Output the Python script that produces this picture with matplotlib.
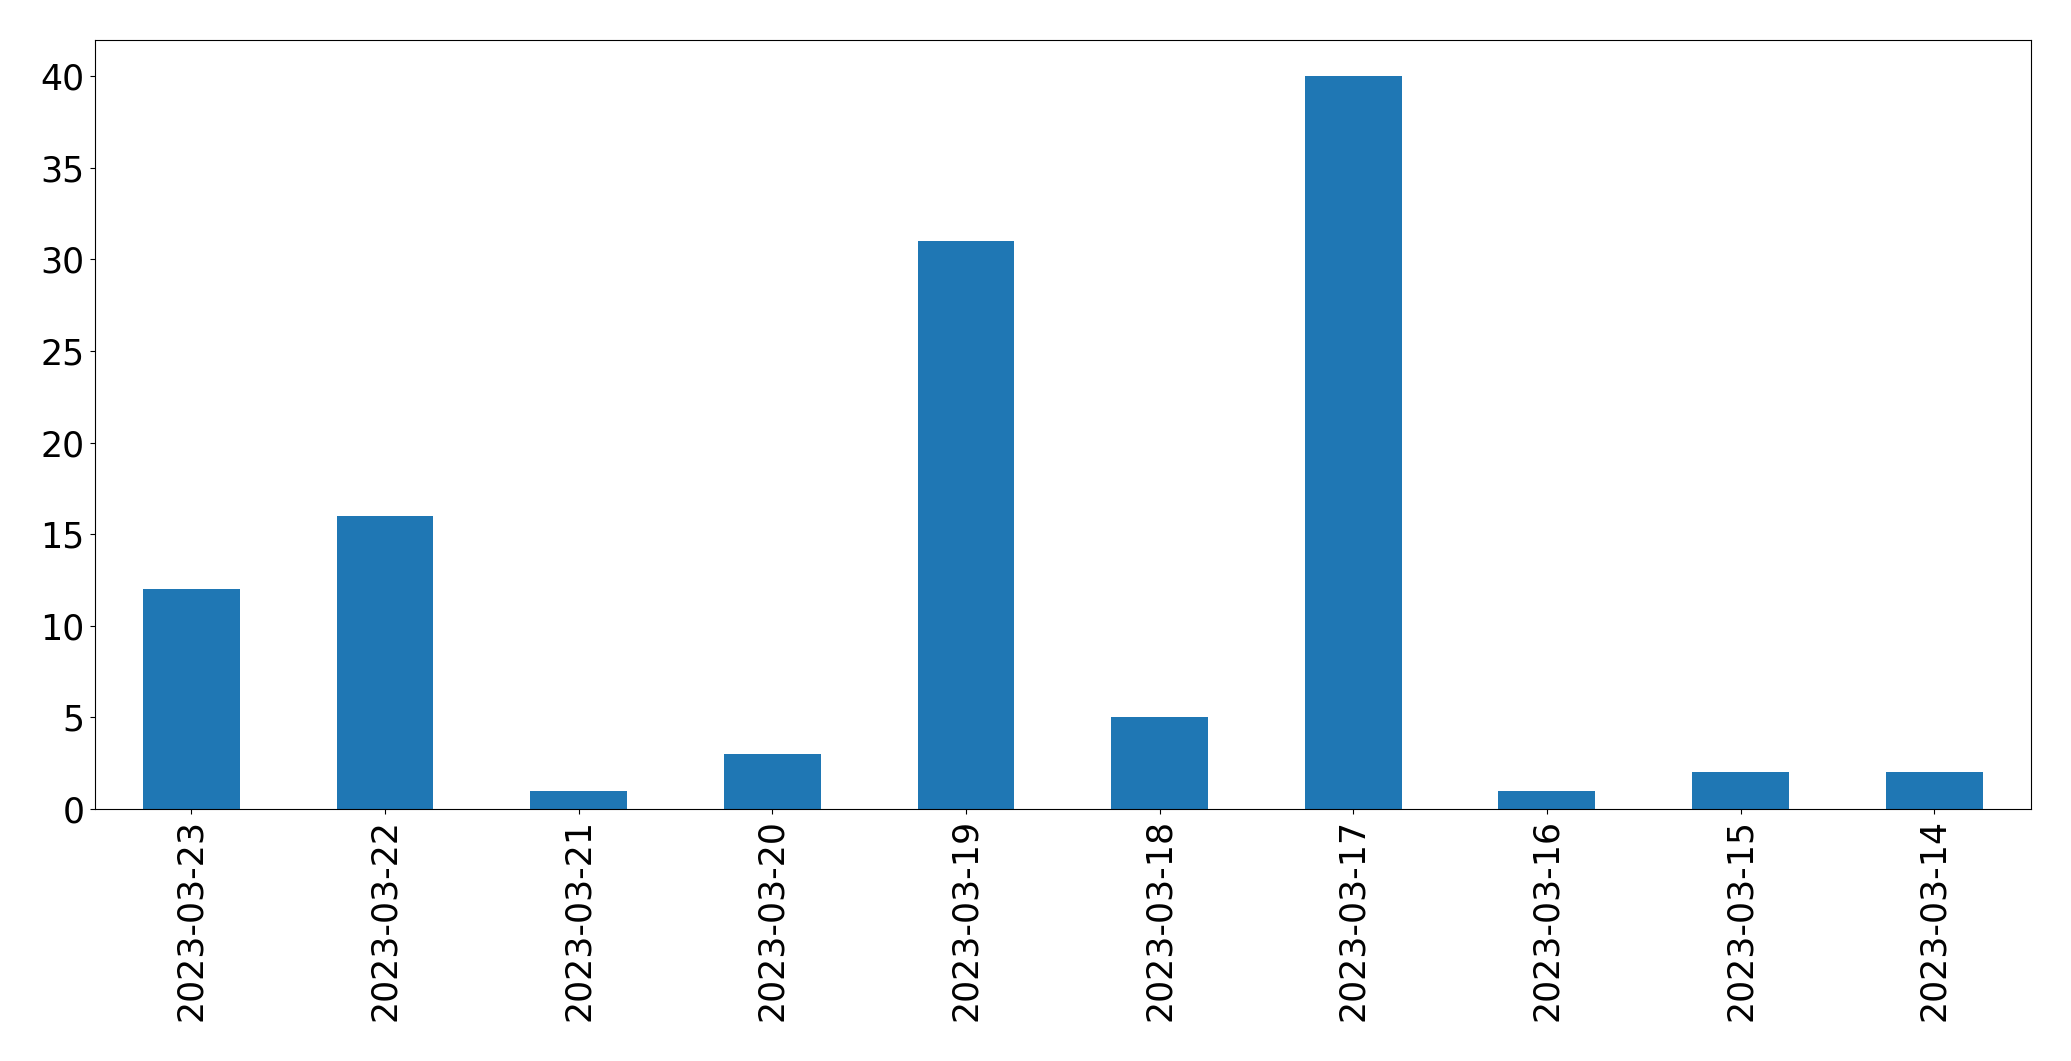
import matplotlib
matplotlib.use("Agg")
import matplotlib.pyplot as plt

dates = ["2023-03-23", "2023-03-22", "2023-03-21", "2023-03-20", "2023-03-19",
         "2023-03-18", "2023-03-17", "2023-03-16", "2023-03-15", "2023-03-14"]
counts = [12, 16, 1, 3, 31, 5, 40, 1, 2, 2]

fig = plt.figure(figsize=(20.71, 10.61), dpi=100)
ax = fig.add_axes([94.5 / 2071, 1 - 809 / 1061, (2031 - 94.5) / 2071, (809 - 39.5) / 1061])
x = list(range(len(dates)))
ax.bar(x, counts, width=0.5, color="#1f77b4")
ax.set_xlim(-0.5, len(dates) - 0.5)
ax.set_xticks(x)
ax.set_xticklabels(dates, rotation=90)
ax.tick_params(labelsize=25)
fig.savefig("out.png", dpi=100)
